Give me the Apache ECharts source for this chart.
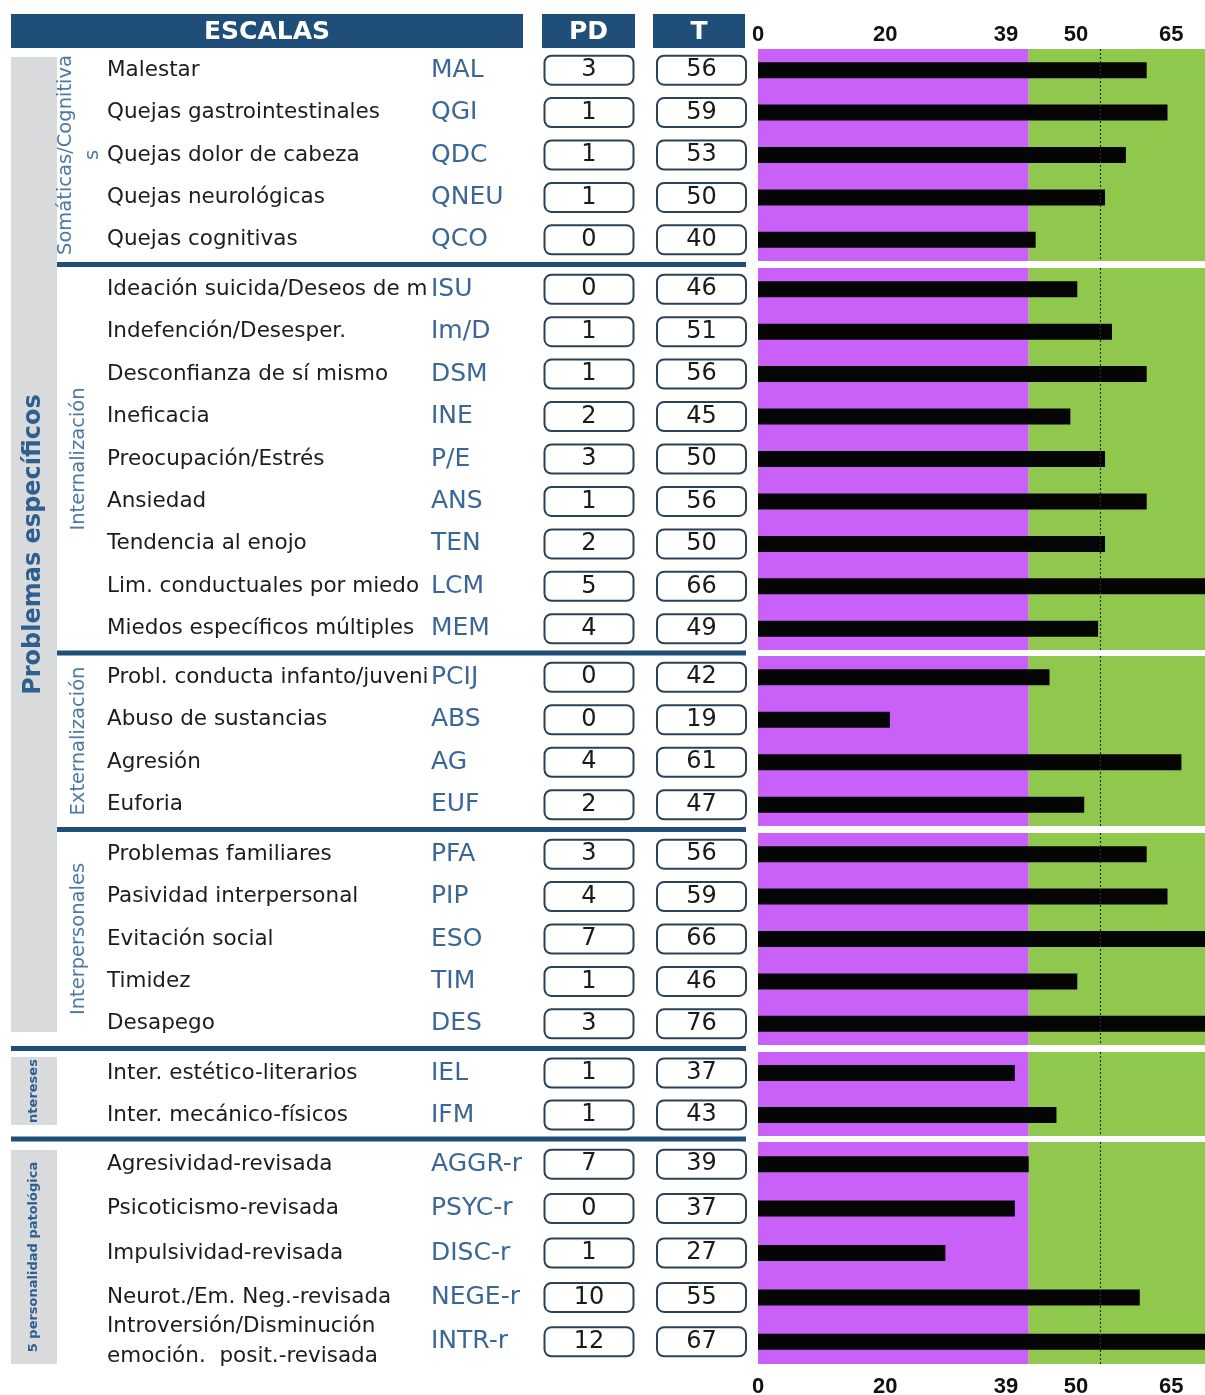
<!DOCTYPE html>
<html>
<head>
<meta charset="utf-8">
<script src="https://cdn.jsdelivr.net/npm/echarts@6/dist/echarts.min.js"></script>
<style>
html,body{margin:0;padding:0;background:#ffffff;}
#chart{width:1205px;height:1395px;}
</style>
</head>
<body>
<div id="chart"></div>
<script>
// ---------------- DATA ----------------
const scaleNames = [
  'Malestar','Quejas gastrointestinales','Quejas dolor de cabeza','Quejas neurológicas','Quejas cognitivas',
  'Ideación suicida/Deseos de muerte','Indefención/Desesper.','Desconfianza de sí mismo','Ineficacia',
  'Preocupación/Estrés','Ansiedad','Tendencia al enojo','Lim. conductuales por miedo','Miedos específicos múltiples',
  'Probl. conducta infanto/juvenil','Abuso de sustancias','Agresión','Euforia',
  'Problemas familiares','Pasividad interpersonal','Evitación social','Timidez','Desapego',
  'Inter. estético-literarios','Inter. mecánico-físicos',
  'Agresividad-revisada','Psicoticismo-revisada','Impulsividad-revisada','Neurot./Em. Neg.-revisada',
  'Introversión/Disminución\nemoción.  posit.-revisada'
];
const scaleCodes = [
  'MAL','QGI','QDC','QNEU','QCO',
  'ISU','Im/D','DSM','INE','P/E','ANS','TEN','LCM','MEM',
  'PCIJ','ABS','AG','EUF',
  'PFA','PIP','ESO','TIM','DES',
  'IEL','IFM',
  'AGGR-r','PSYC-r','DISC-r','NEGE-r','INTR-r'
];
const pdScores = [3,1,1,1,0, 0,1,1,2,3,1,2,5,4, 0,0,4,2, 3,4,7,1,3, 1,1, 7,0,1,10,12];
const tScores  = [56,59,53,50,40, 46,51,56,45,50,56,50,66,49, 42,19,61,47, 56,59,66,46,76, 37,43, 39,37,27,55,67];
const groupSizes = [5,9,4,5,2,5];
const subGroupLabels = ['Somáticas/Cognitiva\ns','Internalización','Externalización','Interpersonales'];
const sideLabels = ['Problemas específicos','ntereses','5 personalidad patológica'];
const headerLabels = ['ESCALAS','PD','T'];
const axisTickLabels = [0,20,39,50,65];
const cutoffT = 39;
const referenceT = 49.3;

// ---------------- LAYOUT / STYLE ----------------
const NAVY = '#1f4e79';
const PURPLE = '#C961F8';
const GREEN = '#8FC84C';
const BLUE_TXT = '#2f5f90';
const SUB_TXT = '#4d79a6';
const CODE_TXT = '#3b6796';
const BAR_LEFT = 758;
const X_MAX = 64.4;      // bar scale
const LABEL_MAX = 70.3;  // tick label scale
const bands = [[49,261],[268,650],[656,826],[833,1045],[1052,1136],[1142,1364]];
const FONT = 'DejaVu Sans';

const grids = [], xAxes = [], yAxes = [], series = [];
let start = 0;
groupSizes.forEach((n, g) => {
  const names = scaleNames.slice(start, start + n);
  const codes = scaleCodes.slice(start, start + n);
  const pd = pdScores.slice(start, start + n);
  const tv = tScores.slice(start, start + n);
  start += n;
  const [top, bottom] = bands[g];
  grids.push({left: BAR_LEFT, right: 0, top: top, height: bottom - top, outerBoundsMode: 'none'});
  const xi = xAxes.length;
  xAxes.push({gridIndex: g, type: 'value', min: 0, max: X_MAX, show: false});
  const base = {gridIndex: g, type: 'category', inverse: true, data: codes, position: 'left',
    axisLine: {show: false}, axisTick: {show: false}, splitLine: {show: false}};
  const yi = yAxes.length;
  const boxRich = {b: {width: 87, height: 27, lineHeight: 27, align: 'center', verticalAlign: 'middle',
    backgroundColor: '#ffffff', borderColor: '#2c4156', borderWidth: 2, borderRadius: 6,
    fontSize: 24, fontFamily: FONT, color: '#1a1a1a'}};
  yAxes.push(Object.assign({}, base, {axisLabel: {interval: 0, margin: BAR_LEFT - 107, align: 'left',
    width: 323, overflow: 'truncate', ellipsis: '', lineHeight: 30,
    fontSize: 21.5, fontFamily: FONT, color: '#1c1c1c', formatter: (v, i) => names[i]}}));
  yAxes.push(Object.assign({}, base, {axisLabel: {interval: 0, margin: BAR_LEFT - 431, align: 'left',
    fontSize: 25, fontFamily: FONT, color: CODE_TXT, formatter: (v, i) => codes[i]}}));
  yAxes.push(Object.assign({}, base, {axisLabel: {interval: 0, margin: BAR_LEFT - 589, align: 'center',
    formatter: (v, i) => '{b|' + pd[i] + '}', rich: boxRich}}));
  yAxes.push(Object.assign({}, base, {axisLabel: {interval: 0, margin: BAR_LEFT - 701.5, align: 'center',
    formatter: (v, i) => '{b|' + tv[i] + '}', rich: boxRich}}));
  series.push({
    type: 'bar', xAxisIndex: xi, yAxisIndex: yi, data: tv, barWidth: 16,
    itemStyle: {color: '#050505'}, silent: true, animation: false,
    markArea: {silent: true, data: [
      [{xAxis: 0, itemStyle: {color: PURPLE}}, {xAxis: cutoffT}],
      [{xAxis: cutoffT, itemStyle: {color: GREEN}}, {xAxis: X_MAX}]
    ]},
    markLine: {silent: true, symbol: 'none', animation: false, label: {show: false},
      lineStyle: {type: [2, 2], color: '#2a2a2a', width: 1.2}, data: [{xAxis: referenceT}]}
  });
});

// tick label axes (top & bottom)
const tickLabelStyle = {customValues: axisTickLabels, fontWeight: 'bold', fontSize: 22,
  fontFamily: 'Liberation Sans', color: '#111111'};
xAxes.push({gridIndex: 0, type: 'value', position: 'top', min: 0, max: LABEL_MAX,
  axisLine: {show: false}, axisTick: {show: false}, splitLine: {show: false},
  axisLabel: Object.assign({margin: 3}, tickLabelStyle)});
xAxes.push({gridIndex: bands.length - 1, type: 'value', position: 'bottom', min: 0, max: LABEL_MAX,
  axisLine: {show: false}, axisTick: {show: false}, splitLine: {show: false},
  axisLabel: Object.assign({margin: 12}, tickLabelStyle)});

// ---------------- DECORATION (table frame) ----------------
const graphic = [];
// header boxes
const headers = [[11, 512], [542, 93], [653, 92]];
headers.forEach((h, i) => {
  graphic.push({type: 'rect', shape: {x: h[0], y: 14, width: h[1], height: 34}, style: {fill: NAVY}});
  graphic.push({type: 'text', x: h[0] + h[1] / 2, y: 32,
    style: {text: headerLabels[i], fill: '#ffffff', fontSize: 25, fontWeight: 'bold', fontFamily: FONT,
      align: 'center', verticalAlign: 'middle'}});
});
// grey side panels
const panels = [[57, 1032], [1057, 1125], [1150, 1364]];
panels.forEach((p, i) => {
  graphic.push({type: 'rect', shape: {x: 11, y: p[0], width: 46, height: p[1] - p[0]}, style: {fill: '#d8dadb'}});
  graphic.push({type: 'text', x: 33.5, y: (p[0] + p[1]) / 2, rotation: Math.PI / 2,
    style: {text: sideLabels[i], fill: BLUE_TXT, fontSize: i === 0 ? 24 : 13, fontWeight: 'bold',
      fontFamily: FONT, align: 'center', verticalAlign: 'middle'}});
});
// sub-group labels
subGroupLabels.forEach((s, g) => {
  const c = (bands[g][0] + bands[g][1]) / 2;
  graphic.push({type: 'text', x: g === 0 ? 79.5 : 79, y: c, rotation: Math.PI / 2,
    style: {text: s, fill: SUB_TXT, fontSize: 19.5, lineHeight: 27, fontFamily: FONT,
      align: 'center', verticalAlign: 'middle'}});
});
// separators
for (let g = 0; g < bands.length - 1; g++) {
  const y = (bands[g][1] + bands[g + 1][0]) / 2;
  const x0 = g < 3 ? 57 : 11;
  graphic.push({type: 'rect', shape: {x: x0, y: y - 2.5, width: 746 - x0, height: 5}, style: {fill: NAVY}});
}

const chart = echarts.init(document.getElementById('chart'), null, {renderer: 'canvas'});
chart.setOption({
  backgroundColor: '#ffffff',
  animation: false,
  grid: grids,
  xAxis: xAxes,
  yAxis: yAxes,
  series: series,
  graphic: graphic
});
</script>
</body>
</html>
